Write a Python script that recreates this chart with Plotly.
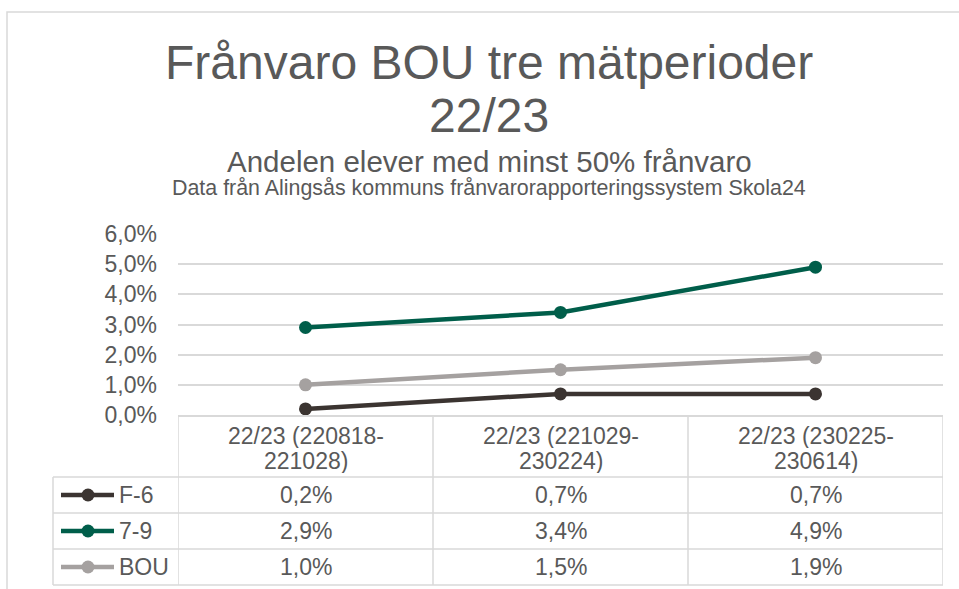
import plotly.graph_objects as go

W, H = 959, 589

categories = ["22/23 (220818-221028)", "22/23 (221029-230224)", "22/23 (230225-230614)"]
series_names = ["F-6", "7-9", "BOU"]
f6 = [0.002, 0.007, 0.007]
g79 = [0.029, 0.034, 0.049]
bou = [0.010, 0.015, 0.019]
series_values = [f6, g79, bou]
colors = ["#3B3431", "#005E4A", "#A5A1A0"]

title_lines = ["Frånvaro BOU tre mätperioder", "22/23"]
subtitle = "Andelen elever med minst 50% frånvaro"
subsubtitle = "Data från Alingsås kommuns frånvarorapporteringssystem Skola24"

TEXT = "#595959"
GRID = "#D9D9D9"
FONT = "Liberation Sans, Arial, sans-serif"


def px(x):
    return x / W


def py(y):
    return 1 - y / H


fig = go.Figure()
for name, vals, col in zip(series_names, series_values, colors):
    fig.add_trace(go.Scatter(
        x=categories, y=vals, name=name, mode="lines+markers",
        line=dict(color=col, width=4.5),
        marker=dict(color=col, size=13),
        showlegend=False, cliponaxis=False,
    ))

ann = []
ann.append(dict(text=title_lines[0], x=px(489), y=py(62), font=dict(size=48, color=TEXT)))
ann.append(dict(text=title_lines[1], x=px(489), y=py(116), font=dict(size=48, color=TEXT)))
ann.append(dict(text=subtitle, x=px(489), y=py(161), font=dict(size=29.5, color=TEXT)))
ann.append(dict(text=subsubtitle, x=px(489), y=py(188), font=dict(size=21.4, color=TEXT)))
for a in ann:
    a.update(xref="paper", yref="paper", showarrow=False, xanchor="center", yanchor="middle")

# header cells (category labels, wrapped after '-')
for i, c in enumerate(categories):
    head, tail = c.split("-", 1)
    for txt, yy in ((head + "-", 436), (tail, 461)):
        ann.append(dict(text=txt, x=i, xref="x", y=py(yy), yref="paper", showarrow=False,
                        xanchor="center", yanchor="middle", height=24, valign="middle",
                        font=dict(size=23, color=TEXT)))

row_y = [495, 531, 567]
shapes = []
for r, (name, vals, col) in enumerate(zip(series_names, series_values, colors)):
    yy = row_y[r]
    for i, v in enumerate(vals):
        ann.append(dict(text=f"{v * 100:.1f}%".replace(".", ","), x=i, xref="x", y=py(yy), yref="paper",
                        showarrow=False, xanchor="center", yanchor="middle", font=dict(size=23, color=TEXT)))
    ann.append(dict(text=name, x=px(117), xref="paper", y=py(yy), yref="paper", showarrow=False,
                    xanchor="left", yanchor="middle", font=dict(size=23, color=TEXT)))
    shapes.append(dict(type="line", xref="paper", yref="paper", x0=px(61), x1=px(114), y0=py(yy), y1=py(yy),
                       line=dict(color=col, width=4.5)))
    shapes.append(dict(type="circle", xref="paper", yref="paper", x0=px(88 - 6.5), x1=px(88 + 6.5),
                       y0=py(yy + 6.5), y1=py(yy - 6.5), fillcolor=col, line=dict(color=col, width=0)))

# table grid
for yy in [477, 513, 549, 585]:
    shapes.append(dict(type="line", xref="paper", yref="paper", x0=px(53), x1=px(943), y0=py(yy), y1=py(yy),
                       line=dict(color=GRID, width=1.5), layer="below"))
for xb in [-0.5, 0.5, 1.5, 2.5]:
    shapes.append(dict(type="line", xref="x", yref="paper", x0=xb, x1=xb, y0=py(415), y1=py(585),
                       line=dict(color=GRID, width=1.5), layer="below"))
shapes.append(dict(type="line", xref="paper", yref="paper", x0=px(53), x1=px(53), y0=py(477), y1=py(585),
                   line=dict(color=GRID, width=1.5), layer="below"))
# outer chart border
shapes.append(dict(type="rect", xref="paper", yref="paper", x0=px(7), x1=px(990), y0=py(620), y1=py(12),
                   line=dict(color=GRID, width=1.5), layer="below"))

fig.update_layout(
    width=W, height=H, autosize=False,
    margin=dict(l=0, r=0, t=0, b=0, autoexpand=False),
    paper_bgcolor="white", plot_bgcolor="white",
    font=dict(family=FONT, color=TEXT),
    separators=", ",
    annotations=ann, shapes=shapes,
    xaxis=dict(domain=[px(178), px(943)], range=[-0.5, 2.5], showticklabels=False, showgrid=False,
               zeroline=False, showline=True, linecolor=GRID, linewidth=1.5, automargin=False),
    yaxis=dict(domain=[py(415), py(234)], range=[0, 0.06], dtick=0.01, tickformat=".1%",
               showgrid=True, gridcolor=GRID, gridwidth=1.5, zeroline=False, automargin=False,
               tickfont=dict(size=23, color=TEXT), ticklabelstandoff=20),
)

fig.write_html("out.html")
